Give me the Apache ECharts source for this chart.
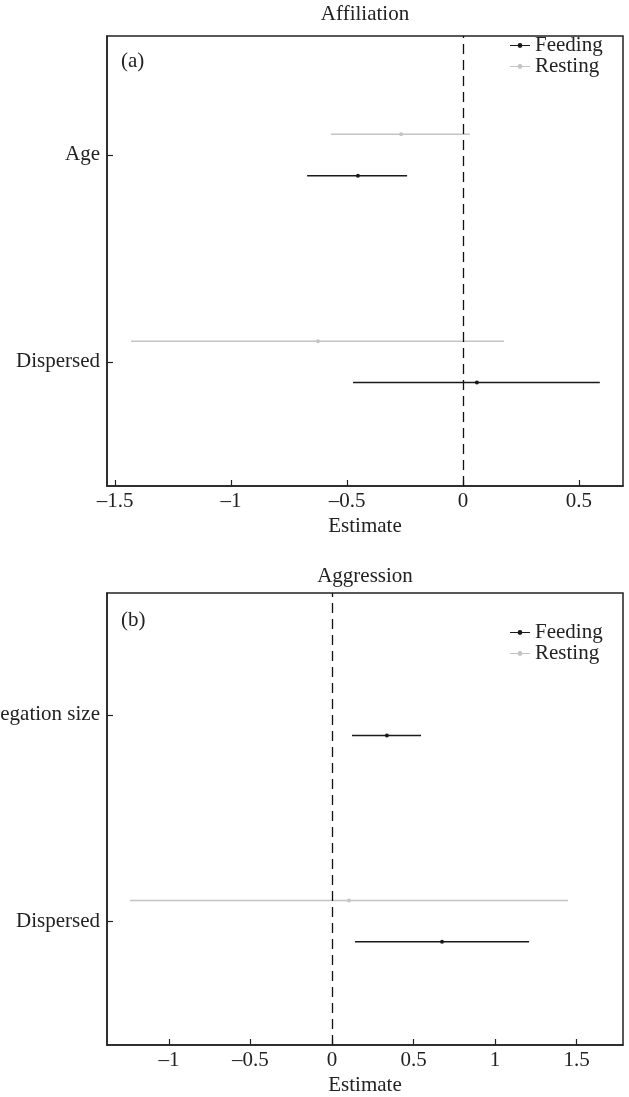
<!DOCTYPE html>
<html>
<head>
<meta charset="utf-8">
<script src="https://cdn.jsdelivr.net/npm/echarts@6/dist/echarts.min.js"></script>
<style>html,body{margin:0;padding:0;background:#fff}#c{width:629px;height:1097px}</style>
</head>
<body>
<div id="c"></div>
<script>
// ---- data ----
const catsA = ['Age', 'Dispersed'];
const feedA_est = [-0.453, 0.060];
const feedA_lo  = [-0.672, -0.474];
const feedA_hi  = [-0.241, 0.590];
const restA_est = [-0.267, -0.625];
const restA_lo  = [-0.569, -1.431];
const restA_hi  = [0.030, 0.177];

const catsB = ['Aggregation size', 'Dispersed'];
const feedB_est = [0.337, 0.675];
const feedB_lo  = [0.123, 0.141];
const feedB_hi  = [0.546, 1.209];
const restB_est = [null, 0.104];
const restB_lo  = [null, -1.239];
const restB_hi  = [null, 1.448];

const ticksA = [-1.5, -1, -0.5, 0, 0.5];
const ticksB = [-1, -0.5, 0, 0.5, 1, 1.5];

// ---- styling ----
const FONT = '"Liberation Serif", "DejaVu Serif", serif';
const FS = 21;
const FEED_C = '#1a1a1a';
const REST_C = '#c4c4c4';
const OFF = 0.1;

function build(est, lo, hi, off) {
  const out = [];
  for (let i = 0; i < est.length; i++) {
    if (est[i] === null) continue;
    out.push([lo[i], hi[i], est[i], (est.length - i) + off]);
  }
  return out;
}
function fmt(v) { return String(v).replace('-', '\u2013'); }

function renderBar(params, api) {
  const lo = api.coord([api.value(0), api.value(3)]);
  const hi = api.coord([api.value(1), api.value(3)]);
  const mid = api.coord([api.value(2), api.value(3)]);
  const c = api.visual('color');
  return {
    type: 'group',
    children: [
      { type: 'line', shape: { x1: lo[0], y1: lo[1], x2: hi[0], y2: hi[1] },
        style: { stroke: c, lineWidth: 1.5 } },
      { type: 'circle', shape: { cx: mid[0], cy: mid[1], r: 2 }, style: { fill: c } }
    ]
  };
}

function xAxisCfg(gi, min, max, ticks) {
  return {
    type: 'value', gridIndex: gi, min: min, max: max,
    name: 'Estimate', nameLocation: 'middle', nameGap: 30,
    nameTextStyle: { fontFamily: FONT, fontSize: FS, color: '#222' },
    axisLine: { show: true, onZero: false, lineStyle: { color: '#222', width: 1.5 } },
    axisTick: { show: true, inside: true, length: 6, customValues: ticks, lineStyle: { color: '#222', width: 1.2 } },
    axisLabel: { customValues: ticks, formatter: fmt, fontFamily: FONT, fontSize: FS, color: '#222', margin: 5 },
    splitLine: { show: false }
  };
}
function yAxisCfg(gi, cats, min, max) {
  const vals = cats.map((_, i) => cats.length - i);
  return {
    type: 'value', gridIndex: gi, min: min, max: max,
    axisLine: { show: true, onZero: false, lineStyle: { color: '#222', width: 1.5 } },
    axisTick: { show: true, inside: true, length: 6, customValues: vals, lineStyle: { color: '#222', width: 1.2 } },
    axisLabel: { customValues: vals, formatter: v => cats[cats.length - Math.round(v)],
      fontFamily: FONT, fontSize: FS, color: '#222', margin: 7 },
    splitLine: { show: false }
  };
}

const zeroLine = {
  silent: true, symbol: 'none', label: { show: false },
  lineStyle: { type: [10, 6], color: '#111', width: 1.3 },
  data: [{ xAxis: 0 }]
};

const legendIcon = 'path://M0,4.4 L20,4.4 L20,5.6 L0,5.6 Z M10,2.6 A2.4,2.4 0 1,1 9.99,2.6 Z';

function legendCfg(top) {
  return { data: ['Feeding', 'Resting'], orient: 'vertical', left: 505, top: top, itemGap: 0,
    itemWidth: 20, itemHeight: 10, icon: legendIcon,
    textStyle: { fontFamily: FONT, fontSize: FS, color: '#222', lineHeight: 21 }, selectedMode: false };
}

const chart = echarts.init(document.getElementById('c'), null, { renderer: 'canvas' });
chart.setOption({
  animation: false,
  backgroundColor: '#fff',
  grid: [
    { left: 107, right: 6, top: 36, height: 450, show: true, borderColor: '#222', borderWidth: 1.5,
      containLabel: false, outerBoundsMode: 'none' },
    { left: 107, right: 6, top: 593, height: 452, show: true, borderColor: '#222', borderWidth: 1.5,
      containLabel: false, outerBoundsMode: 'none' }
  ],
  xAxis: [xAxisCfg(0, -1.535, 0.69, ticksA), xAxisCfg(1, -1.38, 1.785, ticksB)],
  yAxis: [yAxisCfg(0, catsA, 0.4, 2.575), yAxisCfg(1, catsB, 0.4, 2.59)],
  legend: [legendCfg(30), legendCfg(617)],
  graphic: [
    { type: 'text', x: 365, y: 14, style: { text: 'Affiliation', font: FS + 'px ' + FONT, fill: '#222', align: 'center', verticalAlign: 'middle' } },
    { type: 'text', x: 365, y: 576, style: { text: 'Aggression', font: FS + 'px ' + FONT, fill: '#222', align: 'center', verticalAlign: 'middle' } },
    { type: 'text', x: 121, y: 61, style: { text: '(a)', font: FS + 'px ' + FONT, fill: '#222', align: 'left', verticalAlign: 'middle' } },
    { type: 'text', x: 121, y: 620, style: { text: '(b)', font: FS + 'px ' + FONT, fill: '#222', align: 'left', verticalAlign: 'middle' } }
  ],
  series: [
    { name: 'Feeding', type: 'custom', xAxisIndex: 0, yAxisIndex: 0, itemStyle: { color: FEED_C },
      renderItem: renderBar, data: build(feedA_est, feedA_lo, feedA_hi, -OFF), markLine: zeroLine, z: 3 },
    { name: 'Resting', type: 'custom', xAxisIndex: 0, yAxisIndex: 0, itemStyle: { color: REST_C },
      renderItem: renderBar, data: build(restA_est, restA_lo, restA_hi, OFF), z: 2 },
    { name: 'Feeding', type: 'custom', xAxisIndex: 1, yAxisIndex: 1, itemStyle: { color: FEED_C },
      renderItem: renderBar, data: build(feedB_est, feedB_lo, feedB_hi, -OFF), markLine: zeroLine, z: 3 },
    { name: 'Resting', type: 'custom', xAxisIndex: 1, yAxisIndex: 1, itemStyle: { color: REST_C },
      renderItem: renderBar, data: build(restB_est, restB_lo, restB_hi, OFF), z: 2 }
  ]
});
</script>
</body>
</html>
